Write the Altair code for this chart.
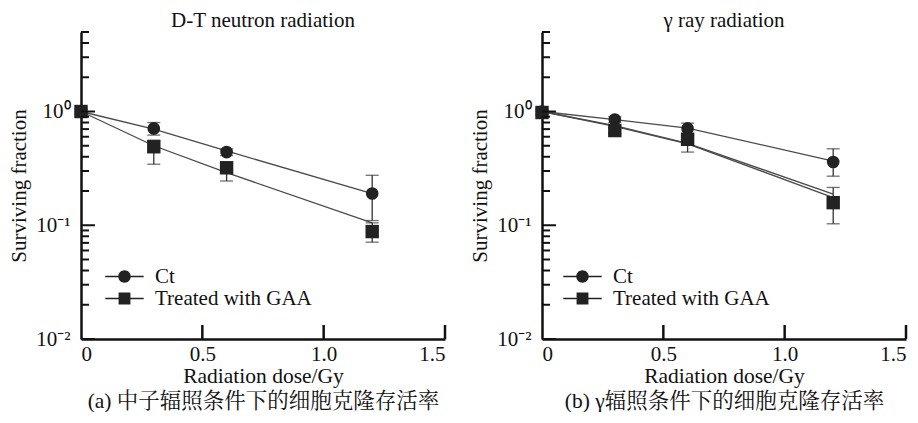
import altair as alt
import pandas as pd

# ---------------- data ----------------
doses = [0.0, 0.3, 0.6, 1.2]
series = ["Ct", "Treated with GAA"]

# (a) D-T neutron radiation
a_ct = [1.0, 0.71, 0.44, 0.19]
a_ct_lo = [0.95, 0.62, 0.41, 0.11]
a_ct_hi = [1.05, 0.80, 0.47, 0.275]
a_gaa = [1.0, 0.49, 0.32, 0.088]
a_gaa_lo = [0.95, 0.344, 0.245, 0.071]
a_gaa_hi = [1.05, 0.56, 0.36, 0.105]
a_fit_ct = [1.0, 0.70, 0.45, 0.19]
a_fit_gaa = [1.0, 0.50, 0.29, 0.105]

# (b) gamma ray radiation
b_ct = [1.0, 0.85, 0.71, 0.36]
b_ct_lo = [0.95, 0.80, 0.62, 0.27]
b_ct_hi = [1.05, 0.90, 0.79, 0.47]
b_gaa = [0.98, 0.68, 0.57, 0.158]
b_gaa_lo = [0.93, 0.64, 0.44, 0.103]
b_gaa_hi = [1.03, 0.72, 0.64, 0.215]
b_fit_ct = [1.0, 0.85, 0.715, 0.367]
b_fit_gaa = [1.0, 0.75, 0.525, 0.188]
b_fit_gaa2 = [1.0, 0.74, 0.52, 0.175]

x_label_values = [0.0, 0.5, 1.0, 1.5]
x_major_ticks = [0.5, 1.0, 1.5]
y_label_values = [0.01, 0.1, 1.0]
y_major_ticks = [0.01, 0.1, 1.0]
y_minor_ticks = [0.02, 0.03, 0.04, 0.05, 0.06, 0.07, 0.08, 0.09,
                 0.2, 0.3, 0.4, 0.5, 0.6, 0.7, 0.8, 0.9, 2, 3, 4, 5]

titles = ["D-T neutron radiation", "γ ray radiation"]
captions = ["(a) 中子辐照条件下的细胞克隆存活率", "(b) γ辐照条件下的细胞克隆存活率"]

# ---------------- style ----------------
W, H = 364, 307
FONT = "Liberation Serif, Noto Serif CJK SC, Noto Sans CJK SC"
INK = "#111111"
# legend glyphs: short line (thin filled bars) with a marker in the middle
CIRCLE_PATH = ("M-2.4,-0.08H-0.7V0.08H-2.4Z M0.7,-0.08H2.4V0.08H0.7Z "
               "M0.78,0A0.78,0.78,0,1,1,-0.78,0A0.78,0.78,0,1,1,0.78,0Z")
SQUARE_PATH = ("M-2.4,-0.08H-0.72V0.08H-2.4Z M0.72,-0.08H2.4V0.08H0.72Z "
               "M-0.74,-0.74H0.74V0.74H-0.74Z")


def points_df(ct, ct_lo, ct_hi, gaa, gaa_lo, gaa_hi):
    rows = []
    for s, v, lo, hi in [(series[0], ct, ct_lo, ct_hi), (series[1], gaa, gaa_lo, gaa_hi)]:
        for d, a, l, h in zip(doses, v, lo, hi):
            rows.append({"series": s, "dose": d, "sf": a, "lo": l, "hi": h})
    return pd.DataFrame(rows)


def fits_df(fits):
    rows = []
    for name, vals in fits:
        for d, v in zip(doses, vals):
            rows.append({"line": name, "dose": d, "sf": v})
    return pd.DataFrame(rows)


def panel(title, caption, pts, fits, lx, ly, loff):
    xscale = alt.Scale(domain=[0, 1.5], nice=False, zero=False)
    yscale = alt.Scale(type="log", domain=[0.01, 5], nice=False)
    xaxis = alt.Axis(
        values=x_label_values,
        labelExpr="datum.value == 0 ? '0' : format(datum.value, '.1f')",
        ticks=False, grid=False,
        title=["Radiation dose/Gy", caption],
        domainWidth=2.5, domainColor=INK,
        labelPadding=4, labelFontSize=21, labelFont=FONT, labelColor=INK,
        titleFont=FONT, titleFontSize=21.5, titleFontWeight="normal", titleColor=INK,
        titleLineHeight=25, titlePadding=1,
    )
    yaxis = alt.Axis(
        values=y_label_values,
        labelExpr="datum.value >= 1 ? '10⁰' : (datum.value >= 0.1 ? '10⁻¹' : '10⁻²')",
        ticks=False, grid=False,
        title="Surviving fraction",
        domainWidth=2.5, domainColor=INK,
        labelPadding=11, labelFontSize=21, labelFont=FONT, labelColor=INK,
        titleFont=FONT, titleFontSize=21, titleFontWeight="normal", titleColor=INK,
        titlePadding=6,
    )

    def X(f="dose"):
        return alt.X(f"{f}:Q", scale=xscale, axis=xaxis)

    def Y(f="sf"):
        return alt.Y(f"{f}:Q", scale=yscale, axis=yaxis)

    lines = alt.Chart(fits).mark_line(color="#4a4a4a", strokeWidth=1.3).encode(
        x=X(), y=Y(), detail="line:N")
    err = alt.Chart(pts).mark_rule(color="#333333", strokeWidth=1.3).encode(
        x=X(), y=Y("lo"), y2="hi:Q")
    cap_lo = alt.Chart(pts).mark_tick(orient="horizontal", color="#333333", thickness=1.3, size=13).encode(
        x=X(), y=Y("lo"))
    cap_hi = alt.Chart(pts).mark_tick(orient="horizontal", color="#333333", thickness=1.3, size=13).encode(
        x=X(), y=Y("hi"))
    points = alt.Chart(pts).mark_point(filled=True, opacity=1, color="#222222").encode(
        x=X(), y=Y(),
        shape=alt.Shape("series:N", scale=alt.Scale(domain=series, range=["circle", "square"]), legend=None),
        size=alt.Size("series:N", scale=alt.Scale(domain=series, range=[160, 180]), legend=None),
    )
    legend = alt.Chart(pts).transform_filter("false").mark_point(
        filled=True, color="#222222", opacity=1
    ).encode(
        shape=alt.Shape("series:N", scale=alt.Scale(domain=series, range=[CIRCLE_PATH, SQUARE_PATH]),
                        legend=alt.Legend(title=None, orient="none", legendX=lx, legendY=ly,
                                          symbolSize=256, labelFont=FONT, labelFontSize=21,
                                          labelColor=INK, labelOffset=loff, padding=0, rowPadding=0,
                                          symbolFillColor="#222222", symbolOpacity=1))
    )
    xt = alt.Chart(pd.DataFrame({"dose": x_major_ticks})).mark_rule(color=INK, strokeWidth=2.5).encode(
        x=X(), y=alt.value(H), y2=alt.value(H - 14))
    yt_major = alt.Chart(pd.DataFrame({"sf": y_major_ticks})).mark_rule(color=INK, strokeWidth=2).encode(
        y=Y(), x=alt.value(0), x2=alt.value(14))
    yt_minor = alt.Chart(pd.DataFrame({"sf": y_minor_ticks})).mark_rule(color=INK, strokeWidth=2).encode(
        y=Y(), x=alt.value(0), x2=alt.value(8))

    return alt.layer(lines, err, cap_lo, cap_hi, points, legend, xt, yt_major, yt_minor).resolve_scale(
        shape="independent", size="independent"
    ).properties(
        width=W, height=H,
        title=alt.TitleParams(text=title, font=FONT, fontSize=21, fontWeight="normal",
                              anchor="middle", offset=0, color=INK),
    )


pa = points_df(a_ct, a_ct_lo, a_ct_hi, a_gaa, a_gaa_lo, a_gaa_hi)
fa = fits_df([("ct", a_fit_ct), ("gaa", a_fit_gaa)])
pb = points_df(b_ct, b_ct_lo, b_ct_hi, b_gaa, b_gaa_lo, b_gaa_hi)
fb = fits_df([("ct", b_fit_ct), ("gaa", b_fit_gaa), ("gaa2", b_fit_gaa2)])

left = panel(titles[0], captions[0], pa, fa, 33, 234, 20)
right = panel(titles[1], captions[1], pb, fb, 30, 234, 20)

chart = alt.hconcat(left, right, spacing=22).properties(
    padding={"left": 0, "top": 2, "right": 0, "bottom": 0}
).configure_view(stroke=None)

chart.save("out.html", embed_options={"renderer": "svg", "actions": False})
